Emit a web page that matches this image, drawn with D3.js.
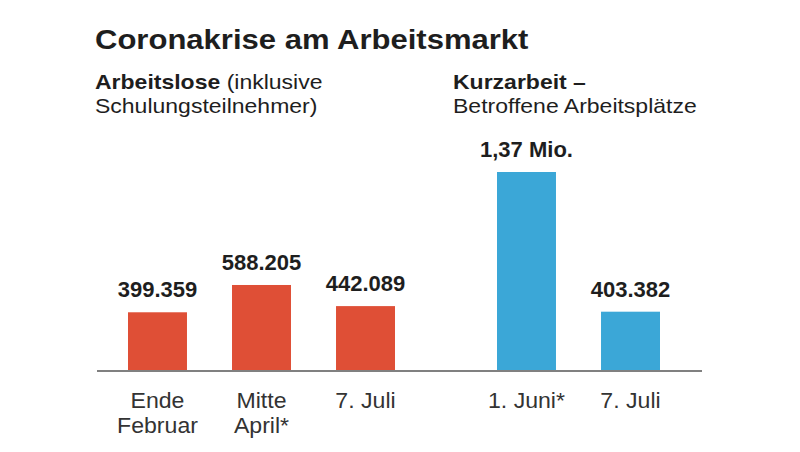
<!DOCTYPE html>
<html>
<head>
<meta charset="utf-8">
<script src="https://cdn.jsdelivr.net/npm/d3@7/dist/d3.min.js"></script>
<style>
  html, body { margin: 0; padding: 0; background: #fff; }
  text { font-family: "Liberation Sans", Arial, Helvetica, sans-serif; }
</style>
</head>
<body>
<svg id="chart" width="800" height="452"></svg>
<script>
// Data
const title = "Coronakrise am Arbeitsmarkt";
const leftCategories = ["Ende|Februar", "Mitte|April*", "7. Juli"];
const leftValues = [399359, 588205, 442089];
const leftLabels = ["399.359", "588.205", "442.089"];
const rightCategories = ["1. Juni*", "7. Juli "];
const rightValues = [1370000, 403382];
const rightLabels = ["1,37 Mio.", "403.382"];

const svg = d3.select("#chart");
const W = 800, H = 452;
svg.append("rect").attr("width", W).attr("height", H).attr("fill", "#fff");

const baseY = 370;
const y = d3.scaleLinear().domain([0, 1370000]).range([baseY, 172]);

const xLeft = d3.scaleBand().domain(leftCategories).range([128, 395]).paddingInner(0.433).paddingOuter(0);
const xRight = d3.scaleBand().domain(rightCategories).range([497, 660]).paddingInner(0.433).paddingOuter(0);

const red = "#df4f36", blue = "#3ba7d7";
const ink = "#1e1e1e";

function stretched(x, yy, sx) {
  return svg.append("g").attr("transform", `translate(${x},${yy}) scale(${sx},1)`)
    .append("text").attr("x", 0).attr("y", 0);
}

// Title
stretched(95, 49, 1.15).attr("font-size", 27).attr("font-weight", "bold").attr("fill", ink).text(title);

// Subtitles
const sub1 = stretched(95, 89, 1.15).attr("font-size", 20).attr("fill", ink);
sub1.append("tspan").attr("font-weight", "bold").text("Arbeitslose");
sub1.append("tspan").text(" (inklusive");
stretched(95, 113, 1.15).attr("font-size", 20).attr("fill", ink).text("Schulungsteilnehmer)");

stretched(453, 89, 1.15).attr("font-size", 20).attr("font-weight", "bold").attr("fill", ink).text("Kurzarbeit –");
stretched(453, 113, 1.15).attr("font-size", 20).attr("fill", ink).text("Betroffene Arbeitsplätze");

function group(x, cats, vals, labels, color) {
  const g = svg.append("g");
  g.selectAll("rect.bar").data(cats).join("rect")
    .attr("class", "bar")
    .attr("x", d => x(d))
    .attr("width", x.bandwidth())
    .attr("y", (d, i) => y(vals[i]))
    .attr("height", (d, i) => baseY - y(vals[i]))
    .attr("fill", color);
  g.selectAll("text.val").data(cats).join("text")
    .attr("class", "val")
    .attr("x", d => x(d) + x.bandwidth() / 2)
    .attr("y", (d, i) => y(vals[i]) - 15)
    .attr("text-anchor", "middle")
    .attr("font-size", 22).attr("font-weight", "bold").attr("fill", ink)
    .text((d, i) => labels[i]);
  cats.forEach(d => {
    const cx = x(d) + x.bandwidth() / 2;
    const t = g.append("g").attr("transform", `translate(${cx},408) scale(1.05,1)`)
      .append("text").attr("class", "cat").attr("x", 0).attr("y", 0)
      .attr("text-anchor", "middle").attr("font-size", 22).attr("fill", "#333");
    d.trim().split("|").forEach((l, i) => {
      t.append("tspan").attr("x", 0).attr("dy", i === 0 ? 0 : 25).text(l);
    });
  });
}
group(xLeft, leftCategories, leftValues, leftLabels, red);
group(xRight, rightCategories, rightValues, rightLabels, blue);

// Baseline
svg.append("line").attr("x1", 97).attr("x2", 702).attr("y1", baseY + 1).attr("y2", baseY + 1)
  .attr("stroke", "#808080").attr("stroke-width", 2);
</script>
</body>
</html>
